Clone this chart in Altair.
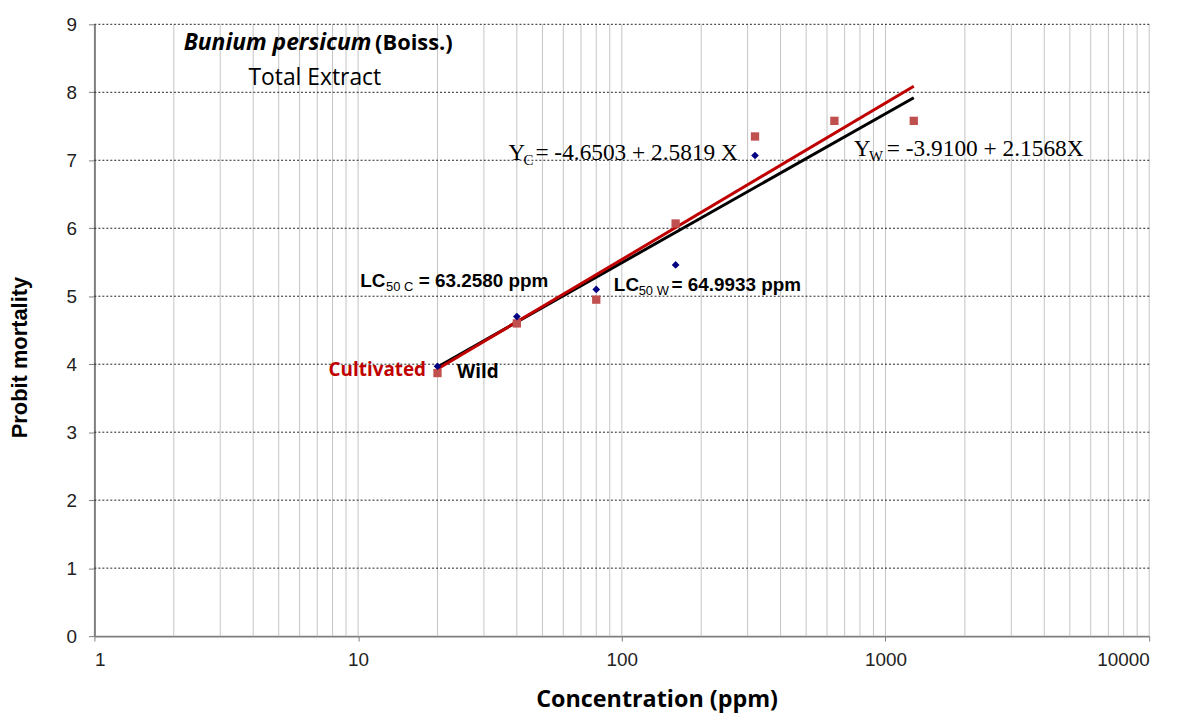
import altair as alt
import pandas as pd

# ---- data ----
wild_conc = [20, 40, 80, 160, 320]
wild_probit = [3.97, 4.70, 5.10, 5.46, 7.07]
cult_conc = [20, 40, 80, 160, 320, 640, 1280]
cult_probit = [3.87, 4.60, 4.95, 6.07, 7.35, 7.58, 7.58]
fit_conc = [20, 1280]
fit_wild = [3.96, 7.92]
fit_cult = [3.93, 8.09]

x_tick_values = [1, 10, 100, 1000, 10000]
y_tick_values = [0, 1, 2, 3, 4, 5, 6, 7, 8, 9]
x_grid_values = [m * 10 ** k for k in range(0, 4) for m in range(2, 11)]
y_grid_values = [1, 2, 3, 4, 5, 6, 7, 8, 9]

# annotation anchors (concentration, probit)
title1_pos = (2.18, 8.62)
title1b_pos = (11.6, 8.62)
title2_pos = (3.84, 8.11)
eqc_pos = (37.2, 7.01)
eqw_pos = (760.0, 7.06)
lcc_pos = (10.19, 5.14)
lcw_pos = (93.3, 5.075)
cult_lab_pos = (18.1, 3.82)
wild_lab_pos = (23.7, 3.80)

xscale = alt.Scale(type="log", domain=[1, 10000], nice=False)
yscale = alt.Scale(domain=[0, 9], nice=False, zero=True)

xaxis = alt.Axis(
    values=x_tick_values, format="d", grid=False, tickSize=5,
    labelPadding=10, labelFontSize=19, title="Concentration (ppm)",
    titleFont="Open Sans", titleFontSize=23.5, titleFontWeight="bold",
    titleX=566, titleY=71, titleBaseline="alphabetic", titleAlign="center",
    titleColor="#000000",
)
yaxis = alt.Axis(
    values=y_tick_values, format="d", grid=False, tickSize=6,
    labelPadding=12, labelFontSize=19, title="Probit mortality",
    titleFont="Liberation Sans", titleFontSize=22, titleFontWeight="bold",
    titleAngle=270, titleX=-68, titleY=335, titleBaseline="alphabetic",
    titleAlign="center", titleColor="#000000",
)


def X(field):
    return alt.X(field, type="quantitative", scale=xscale, axis=xaxis)


def Y(field):
    return alt.Y(field, type="quantitative", scale=yscale, axis=yaxis)


vgrid = alt.Chart(pd.DataFrame({"v": x_grid_values})).mark_rule(
    color="#c4c4c4", strokeWidth=1
).encode(x=X("v"))

hgrid = alt.Chart(pd.DataFrame({"h": y_grid_values})).mark_rule(
    color="#222222", strokeWidth=1, strokeDash=[2, 2]
).encode(y=Y("h"))

fit_df = pd.DataFrame({"conc": fit_conc, "wild": fit_wild, "cult": fit_cult})
line_w = alt.Chart(fit_df).mark_line(color="#000000", strokeWidth=3).encode(
    x=X("conc"), y=Y("wild")
)
line_c = alt.Chart(fit_df).mark_line(color="#C00000", strokeWidth=3).encode(
    x=X("conc"), y=Y("cult")
)

cult_pts = alt.Chart(pd.DataFrame({"conc": cult_conc, "p": cult_probit})).mark_square(
    size=70, color="#C0504D", opacity=1
).encode(x=X("conc"), y=Y("p"))
wild_pts = alt.Chart(pd.DataFrame({"conc": wild_conc, "p": wild_probit})).mark_point(
    shape="diamond", filled=True, size=60, color="#000080", opacity=1
).encode(x=X("conc"), y=Y("p"))


def note(pos, text, **kw):
    df = pd.DataFrame({"conc": [pos[0]], "p": [pos[1]], "t": [text]})
    base = dict(align="left", baseline="alphabetic", color="#000000")
    base.update(kw)
    return alt.Chart(df).mark_text(**base).encode(x=X("conc"), y=Y("p"), text="t:N")


serif = "Liberation Serif"
sans = "Liberation Sans"
cal = "Open Sans"

notes = [
    note(title1_pos, "Bunium persicum", font=cal, fontSize=23, fontWeight="bold", fontStyle="italic"),
    note(title1b_pos, "(Boiss.)", font=cal, fontSize=22, fontWeight="bold"),
    note(title2_pos, "Total Extract", font=cal, fontSize=23),
    note(eqc_pos, "Y", font=serif, fontSize=23),
    note(eqc_pos, "C", font=serif, fontSize=15, dx=15, dy=5),
    note(eqc_pos, "= -4.6503 + 2.5819 X", font=serif, fontSize=23.5, dx=27),
    note(eqw_pos, "Y", font=serif, fontSize=23),
    note(eqw_pos, "W", font=serif, fontSize=15, dx=15, dy=5),
    note(eqw_pos, "= -3.9100 + 2.1568X", font=serif, fontSize=23.5, dx=33),
    note(lcc_pos, "LC", font=sans, fontSize=19, fontWeight="bold"),
    note(lcc_pos, "50 C", font=sans, fontSize=13, dx=26, dy=4),
    note(lcc_pos, "= 63.2580 ppm", font=sans, fontSize=19, fontWeight="bold", dx=59),
    note(lcw_pos, "LC", font=sans, fontSize=19, fontWeight="bold"),
    note(lcw_pos, "50 W", font=sans, fontSize=13, dx=25, dy=4),
    note(lcw_pos, "= 64.9933 ppm", font=sans, fontSize=19, fontWeight="bold", dx=58),
    note(cult_lab_pos, "Cultivated", font=cal, fontSize=19, fontWeight="bold", align="right", color="#C00000"),
    note(wild_lab_pos, "Wild", font=cal, fontSize=19, fontWeight="bold"),
]

chart = alt.layer(vgrid, hgrid, line_w, line_c, cult_pts, wild_pts, *notes).properties(
    width=1062, height=616,
    autosize=alt.AutoSizeParams(type="none"),
    padding={"left": 87, "top": 14, "right": 30, "bottom": 79},
    background="#ffffff",
).configure_view(stroke=None).configure_axis(
    domainColor="#7f7f7f", domainWidth=2, tickColor="#7f7f7f", tickWidth=1,
    labelFont=sans, labelColor="#222222",
)

chart.save("out.html", embed_options={"renderer": "svg", "actions": False})
